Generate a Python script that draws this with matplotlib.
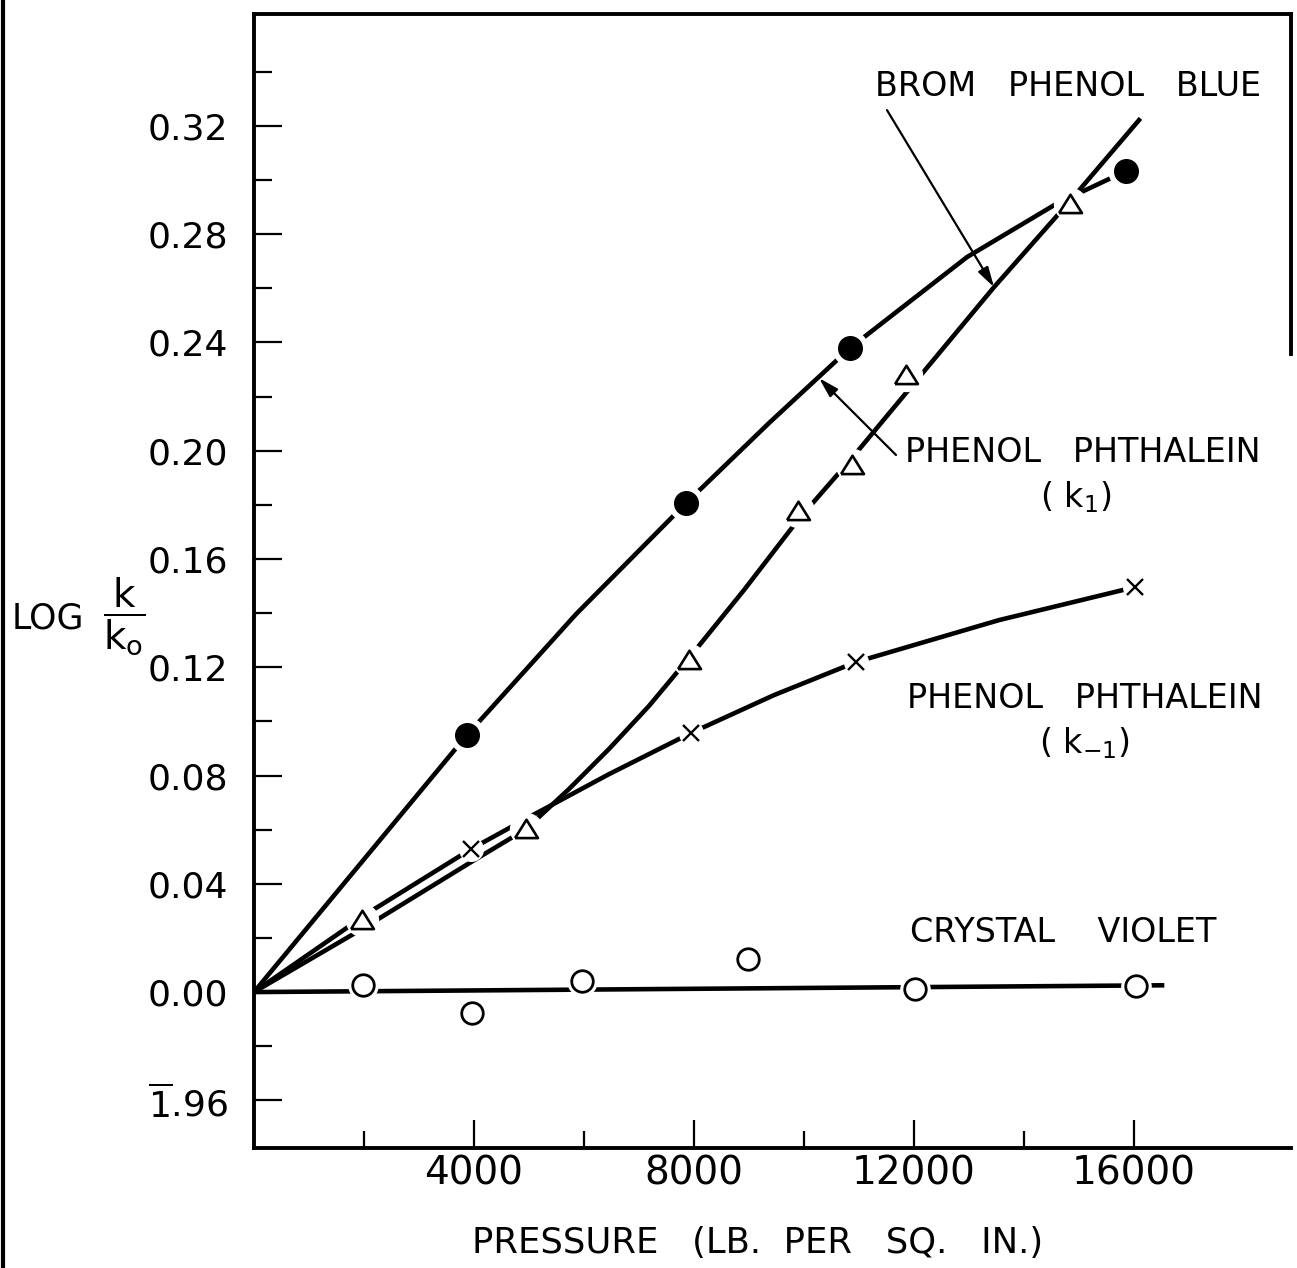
import matplotlib.pyplot as plt
from matplotlib.lines import Line2D

plt.rcParams['font.family'] = ['DejaVu Sans']
plt.rcParams['mathtext.fontset'] = 'dejavusans'
plt.rcParams['mathtext.default'] = 'regular'

W, H = 1297, 1268

# brom phenol blue (open triangles) and its drawn curve
bpb_x = [1964, 4945, 7909, 9891, 10873, 11855, 14836]
bpb_y = [0.0266, 0.0602, 0.1226, 0.1777, 0.1947, 0.2279, 0.2911]
bpb_fit_x = [0, 1964, 3945, 4945, 5727, 6455, 7182, 7909, 8909, 9891, 10873,
             11855, 13455, 14836, 16091]
bpb_fit_y = [0, 0.0233, 0.0480, 0.0602, 0.0750, 0.0898, 0.1057, 0.1234, 0.1485,
             0.1744, 0.1973, 0.2213, 0.2604, 0.2922, 0.3221]

# phenol phthalein k1 (filled circles)
pp1_x = [3870, 7855, 10836, 15855]
pp1_y = [0.0949, 0.1806, 0.2379, 0.3033]
pp1_fit_x = [0, 3870, 5855, 7855, 9364, 10836, 12964, 14582, 15855]
pp1_fit_y = [0, 0.0949, 0.1396, 0.1806, 0.2102, 0.2379, 0.2715, 0.2911, 0.3033]

# phenol phthalein k-1 (crosses)
ppm1_x = [3945, 7945, 10945, 16018]
ppm1_y = [0.0528, 0.0957, 0.1219, 0.1496]
ppm1_fit_x = [0, 2127, 3945, 4945, 6455, 7945, 9455, 10945, 13545, 16018]
ppm1_fit_y = [0, 0.0299, 0.0528, 0.0640, 0.0805, 0.0957, 0.1097, 0.1219, 0.1374, 0.1496]

# crystal violet (open circles)
cv_x = [1982, 3964, 5964, 8982, 12018, 16036]
cv_y = [0.0026, -0.0078, 0.0041, 0.0122, 0.0011, 0.0022]
cv_fit_x = [0, 16510]
cv_fit_y = [0, 0.0025]

xticks = [4000, 8000, 12000, 16000]
xminor = [2000, 6000, 10000, 14000]
yticks = [-0.04, 0.0, 0.04, 0.08, 0.12, 0.16, 0.20, 0.24, 0.28, 0.32]
ylabels = [r'$\overline{1}$.96', '0.00', '0.04', '0.08', '0.12', '0.16',
           '0.20', '0.24', '0.28', '0.32']
yminor = [-0.02, 0.02, 0.06, 0.10, 0.14, 0.18, 0.22, 0.26, 0.30, 0.34]


def fpos(px, py):
    return px / W, 1 - py / H


fig = plt.figure(figsize=(W / 100, H / 100), dpi=100)
ax = fig.add_axes([254 / W, 1 - 1148 / H, (1291 - 254) / W, (1148 - 14) / H])
ax.set_xlim(0, 18855)
ax.set_ylim(-0.0576, 0.3613)

lw = 3.3
for fx, fy in [(bpb_fit_x, bpb_fit_y), (pp1_fit_x, pp1_fit_y),
               (ppm1_fit_x, ppm1_fit_y), (cv_fit_x, cv_fit_y)]:
    ax.plot(fx, fy, color='black', lw=lw, zorder=2, solid_joinstyle='round')

# white halos leave the small gaps round each point
for x, y, s in [(bpb_x, bpb_y, 23), (pp1_x, pp1_y, 25),
                (ppm1_x, ppm1_y, 17), (cv_x, cv_y, 21)]:
    ax.plot(x, y, 'o', ms=s, color='white', mec='white', zorder=3)

tri = [(-1, -0.75), (1, -0.75), (0, 0.85), (-1, -0.75)]
ax.plot(bpb_x, bpb_y, ls='none', marker=tri, ms=16.5, mfc='white', mec='black',
        mew=1.9, zorder=4)
ax.plot(pp1_x, pp1_y, 'o', ms=17, color='black', zorder=4)
ax.plot(ppm1_x, ppm1_y, 'x', ms=11, color='black', mew=1.7, zorder=4)
ax.plot(cv_x, cv_y, 'o', ms=15.5, mfc='white', mec='black', mew=2.0, zorder=4)

arrow = dict(arrowstyle='-|>,head_length=0.6,head_width=0.17', color='black',
             lw=1.6, mutation_scale=20, shrinkA=0, shrinkB=0)
ax.annotate('', xy=(13455, 0.2604), xytext=(11509, 0.3258), arrowprops=arrow)
ax.annotate('', xy=(10273, 0.2268), xytext=(11673, 0.1984), arrowprops=arrow)

# axes frame
for s in ['left', 'bottom', 'top', 'right']:
    ax.spines[s].set_linewidth(2.8)
ax.spines['right'].set_bounds(0.2357, 0.3613)

ax.set_xticks(xticks)
ax.set_xticklabels([str(t) for t in xticks])
ax.set_xticks(xminor, minor=True)
ax.set_yticks(yticks)
ax.set_yticklabels(ylabels)
ax.set_yticks(yminor, minor=True)
ax.tick_params(which='both', direction='in', width=1.6)
ax.tick_params(axis='y', which='major', length=20, pad=18.5, labelsize=26)
ax.tick_params(axis='y', which='minor', length=13)
ax.tick_params(axis='x', which='major', length=20, pad=5, labelsize=28)
ax.tick_params(axis='x', which='minor', length=12)

txt = dict(fontsize=24, color='black')
fig.text(*fpos(875, 86), 'BROM   PHENOL   BLUE', ha='left', va='center', **txt)
fig.text(*fpos(905, 452), 'PHENOL   PHTHALEIN', ha='left', va='center', **txt)
fig.text(*fpos(1076, 497), '( k$_1$)', ha='center', va='center', **txt)
fig.text(*fpos(907, 698), 'PHENOL   PHTHALEIN', ha='left', va='center', **txt)
fig.text(*fpos(1084, 743), '( k$_{-1}$)', ha='center', va='center', **txt)
fig.text(*fpos(910, 932), 'CRYSTAL    VIOLET', ha='left', va='center', **txt)

fig.text(*fpos(758, 1243), 'PRESSURE   (LB.  PER   SQ.   IN.)', ha='center',
         va='center', fontsize=25.5)
fig.text(*fpos(12, 618), 'LOG', ha='left', va='center', fontsize=25)
fig.text(*fpos(124, 616), r'$\dfrac{k}{k_o}$', ha='center', va='center', fontsize=28)

# edge of the page on the left
fig.add_artist(Line2D([3 / W, 3 / W], [0, 1], lw=3, color='black'))

fig.savefig('out.png', dpi=100)
